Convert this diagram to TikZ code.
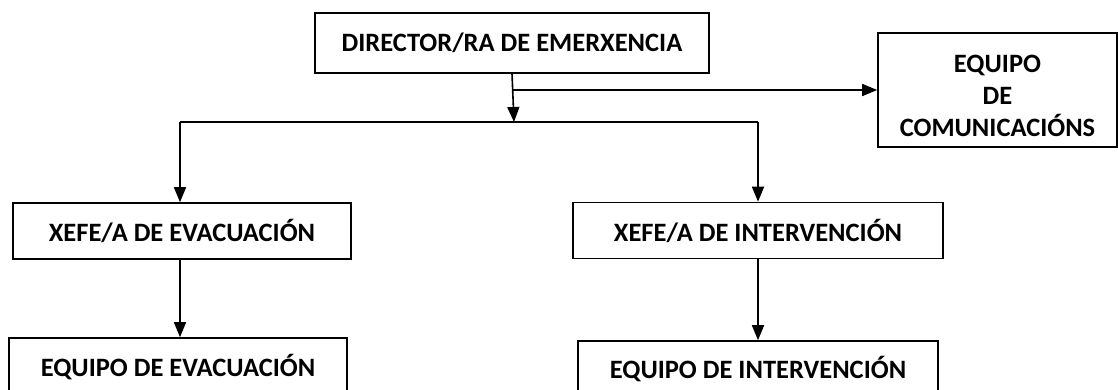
\documentclass[tikz,border=0pt]{standalone}
\usepackage{fontspec}
\setmainfont{Carlito}
\usetikzlibrary{arrows.meta, positioning}

\begin{document}
\begin{tikzpicture}[
  x=1pt, y=-1pt,
  box/.style={draw, line width=1.6pt, minimum height=#1, inner sep=0pt, align=center, font=\fontsize{26.5}{32}\selectfont\bfseries},
  box/.default=56pt,
  arr/.style={-{Triangle[length=15pt, width=12pt]}, line width=1.6pt},
  ln/.style={line width=1.6pt}
]
\useasboundingbox (0,0) rectangle (1118,390);
\clip (0,0) rectangle (1118,390);
\node[box=114pt, minimum width=239pt, text height=94pt] (com) at (997.5,90) {EQUIPO\\DE\\COMUNICACIÓNS};
\node[box=60pt, minimum width=394pt] (dir) at (512,43) {DIRECTOR/RA DE EMERXENCIA};
\node[box, minimum width=338pt] (xev) at (182,231) {XEFE/A DE EVACUACIÓN};
\node[box, minimum width=370pt] (xin) at (758,230.5) {XEFE/A DE INTERVENCIÓN};
\node[box=58pt, minimum width=338pt] (eev) at (178,367) {EQUIPO DE EVACUACIÓN};
\node[box, minimum width=360pt] (ein) at (758,369) {EQUIPO DE INTERVENCIÓN};
\coordinate (mid) at (514,122);
\coordinate (lft) at (180,122);
\coordinate (rgt) at (758,122);
\draw[arr] (dir.south) -- (mid);
\draw[arr] (dir.south |- com.west) -- (com.west);
\draw[ln] (lft) -- (rgt);
\draw[arr] (lft) -- (lft |- xev.north);
\draw[arr] (rgt) -- (xin.north);
\draw[arr] (xev.south -| lft) -- (lft |- eev.north);
\draw[arr] (xin.south) -- (ein.north);
\end{tikzpicture}
\end{document}
